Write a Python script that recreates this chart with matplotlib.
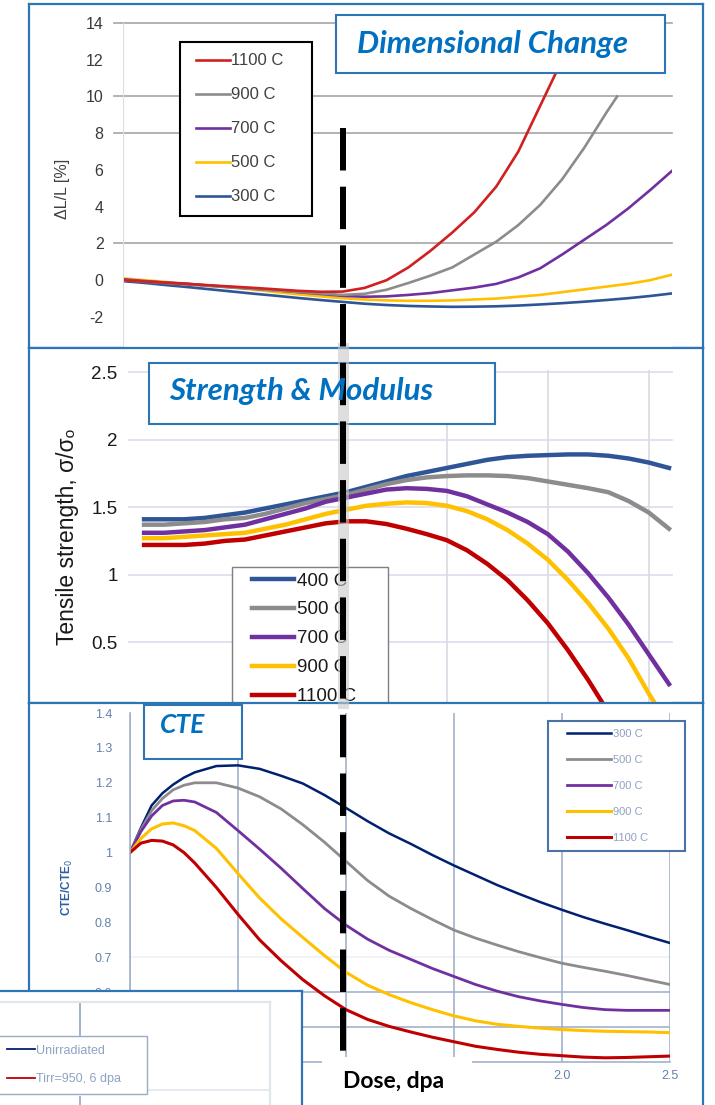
import matplotlib.pyplot as plt
from matplotlib.lines import Line2D
from matplotlib.patches import Rectangle
from matplotlib.legend_handler import HandlerLine2D

plt.rcParams['font.family'] = ['Liberation Sans', 'DejaVu Sans']
plt.rcParams['axes.unicode_minus'] = False

W, H = 715, 1105

# ---- Colores ----
FRAME = '#2e75b6'
TITLE = '#0070c0'
RED = '#c00000'
GRAY = '#8c8c8c'
PURPLE = '#7030a0'
YELLOW = '#ffc000'
BLUE = '#2f5597'
NAVY = '#002070'

# ---- Panel 1: Dimensional change, dL/L [%] vs dosis ----
dc_dose = [0.0, 0.1, 0.2, 0.3, 0.4, 0.5, 0.6, 0.7, 0.8, 0.9, 1.0, 1.1, 1.2,
           1.3, 1.4, 1.5, 1.6, 1.7, 1.8, 1.9, 2.0, 2.1, 2.2, 2.3, 2.4, 2.5]
dc_300 = [-0.05, -0.15, -0.27, -0.38, -0.5, -0.62, -0.74, -0.85, -0.97, -1.08,
          -1.18, -1.28, -1.35, -1.4, -1.43, -1.45, -1.44, -1.42, -1.38, -1.32,
          -1.25, -1.17, -1.08, -0.98, -0.86, -0.72]
dc_500 = [0.1, 0.0, -0.1, -0.2, -0.3, -0.4, -0.52, -0.65, -0.77, -0.88, -0.98,
          -1.05, -1.1, -1.12, -1.12, -1.1, -1.05, -1.0, -0.9, -0.8, -0.65, -0.5,
          -0.35, -0.2, 0.0, 0.3]
dc_700 = [0.05, -0.05, -0.13, -0.2, -0.3, -0.38, -0.47, -0.55, -0.65, -0.75,
          -0.85, -0.9, -0.88, -0.8, -0.7, -0.55, -0.4, -0.2, 0.15, 0.65, 1.4,
          2.2, 3.0, 3.9, 4.9, 5.95]
dc_900_dose = [0.0, 0.1, 0.2, 0.3, 0.4, 0.5, 0.6, 0.7, 0.8, 0.9, 1.0, 1.1, 1.2,
               1.3, 1.4, 1.5, 1.6, 1.7, 1.8, 1.9, 2.0, 2.1, 2.2, 2.25]
dc_900 = [0.0, -0.08, -0.16, -0.24, -0.32, -0.4, -0.48, -0.56, -0.64, -0.72,
          -0.8, -0.74, -0.52, -0.15, 0.25, 0.7, 1.4, 2.1, 3.0, 4.1, 5.5, 7.2,
          9.1, 10.0]
dc_1100_dose = [0.0, 0.1, 0.2, 0.3, 0.4, 0.5, 0.6, 0.7, 0.8, 0.9, 1.0, 1.1,
                1.2, 1.3, 1.4, 1.5, 1.6, 1.7, 1.8, 1.9, 2.0, 2.1]
dc_1100 = [0.0, -0.07, -0.14, -0.21, -0.28, -0.35, -0.42, -0.5, -0.58, -0.63,
           -0.62, -0.42, 0.0, 0.7, 1.6, 2.6, 3.7, 5.1, 7.0, 9.5, 12.0, 15.0]
dc_ticks = [14, 12, 10, 8, 6, 4, 2, 0, -2]
dc_grid = [14, 10, 8, 2]

# ---- Panel 2: Tensile strength sigma/sigma0 vs dosis ----
ts_dose = [0.0, 0.1, 0.2, 0.3, 0.4, 0.5, 0.6, 0.7, 0.8, 0.9, 1.0, 1.1, 1.2,
           1.3, 1.4, 1.5, 1.6, 1.7, 1.8, 1.9, 2.0, 2.1, 2.2, 2.3, 2.4, 2.5, 2.6]
ts_400 = [1.41, 1.41, 1.41, 1.42, 1.44, 1.46, 1.49, 1.52, 1.55, 1.58, 1.61,
          1.65, 1.69, 1.73, 1.76, 1.79, 1.82, 1.85, 1.87, 1.88, 1.885, 1.89,
          1.89, 1.88, 1.86, 1.83, 1.79]
ts_500 = [1.37, 1.37, 1.38, 1.39, 1.41, 1.42, 1.45, 1.49, 1.53, 1.56, 1.59,
          1.63, 1.67, 1.70, 1.72, 1.73, 1.735, 1.735, 1.73, 1.715, 1.69, 1.665,
          1.64, 1.61, 1.545, 1.46, 1.34]
ts_700 = [1.31, 1.31, 1.32, 1.33, 1.35, 1.37, 1.41, 1.45, 1.49, 1.54, 1.57,
          1.60, 1.63, 1.64, 1.635, 1.62, 1.58, 1.52, 1.46, 1.39, 1.30, 1.17,
          1.01, 0.83, 0.63, 0.41, 0.19]
ts_900_dose = [0.0, 0.1, 0.2, 0.3, 0.4, 0.5, 0.6, 0.7, 0.8, 0.9, 1.0, 1.1,
               1.2, 1.3, 1.4, 1.5, 1.6, 1.7, 1.8, 1.9, 2.0, 2.1, 2.2, 2.3, 2.4,
               2.5, 2.55]
ts_900 = [1.27, 1.27, 1.28, 1.29, 1.30, 1.31, 1.34, 1.37, 1.41, 1.45, 1.48,
          1.51, 1.525, 1.535, 1.53, 1.51, 1.47, 1.41, 1.33, 1.23, 1.11, 0.96,
          0.79, 0.60, 0.38, 0.12, 0.0]
ts_1100_dose = [0.0, 0.1, 0.2, 0.3, 0.4, 0.5, 0.6, 0.7, 0.8, 0.9, 1.0, 1.1,
                1.2, 1.3, 1.4, 1.5, 1.6, 1.7, 1.8, 1.9, 2.0, 2.1, 2.2, 2.3]
ts_1100 = [1.22, 1.22, 1.22, 1.23, 1.25, 1.26, 1.29, 1.32, 1.35, 1.38, 1.395,
           1.395, 1.375, 1.34, 1.30, 1.255, 1.18, 1.08, 0.96, 0.81, 0.64, 0.44,
           0.22, -0.02]
ts_ticks = [0.5, 1.0, 1.5, 2.0, 2.5]
ts_ticklabels = ['0.5', '1', '1.5', '2', '2.5']
ts_grid_x = [1.5, 2.0, 2.5]

# ---- Panel 3: CTE/CTE0 vs dosis ----
cte_dose = [0.0, 0.05, 0.1, 0.15, 0.2, 0.25, 0.3, 0.4, 0.5, 0.6, 0.7, 0.8,
            0.9, 1.0, 1.1, 1.2, 1.3, 1.4, 1.5, 1.6, 1.7, 1.8, 1.9, 2.0, 2.1,
            2.2, 2.3, 2.4, 2.5]
cte_300 = [1.0, 1.07, 1.135, 1.17, 1.195, 1.215, 1.23, 1.248, 1.25, 1.24, 1.22,
           1.198, 1.165, 1.128, 1.09, 1.055, 1.025, 0.993, 0.963, 0.935, 0.907,
           0.882, 0.858, 0.836, 0.815, 0.796, 0.778, 0.759, 0.741]
cte_500 = [1.0, 1.065, 1.12, 1.155, 1.18, 1.193, 1.2, 1.2, 1.185, 1.16, 1.125,
           1.08, 1.03, 0.975, 0.92, 0.875, 0.84, 0.808, 0.778, 0.755, 0.735,
           0.716, 0.699, 0.683, 0.671, 0.66, 0.648, 0.635, 0.622]
cte_700 = [1.0, 1.06, 1.105, 1.135, 1.148, 1.15, 1.145, 1.115, 1.063, 1.01,
           0.955, 0.897, 0.84, 0.792, 0.752, 0.72, 0.694, 0.668, 0.645, 0.622,
           0.603, 0.587, 0.575, 0.565, 0.556, 0.55, 0.548, 0.548, 0.548]
cte_900 = [1.0, 1.04, 1.068, 1.082, 1.085, 1.077, 1.063, 1.012, 0.94, 0.87,
           0.81, 0.757, 0.705, 0.657, 0.62, 0.593, 0.57, 0.55, 0.532, 0.518,
           0.508, 0.502, 0.497, 0.493, 0.49, 0.488, 0.487, 0.486, 0.484]
cte_1100 = [1.0, 1.027, 1.035, 1.033, 1.022, 1.0, 0.97, 0.9, 0.823, 0.75, 0.69,
            0.636, 0.59, 0.55, 0.522, 0.502, 0.486, 0.471, 0.458, 0.445, 0.436,
            0.428, 0.422, 0.418, 0.414, 0.412, 0.413, 0.415, 0.417]
cte_yticks = [0.4, 0.5, 0.6, 0.7, 0.8, 0.9, 1.0, 1.1, 1.2, 1.3, 1.4]
# 0.4 y 0.5 quedan tapados por el recorte de abajo
cte_yticklabels = ['', '', '0.6', '0.7', '0.8', '0.9', '1', '1.1', '1.2',
                   '1.3', '1.4']
cte_xticks = [0.0, 0.5, 1.0, 1.5, 2.0, 2.5]
cte_xticklabels = ['', '', '', '', '2.0', '2.5']

temps_dc = ['1100 C', '900 C', '700 C', '500 C', '300 C']
temps_ts = ['400 C', '500 C', '700 C', '900 C', '1100 C']
temps_cte = ['300 C', '500 C', '700 C', '900 C', '1100 C']
legend_old = ['Unirradiated', 'Tirr=950, 6 dpa']

fig = plt.figure(figsize=(W / 100, H / 100), dpi=100)


def px_box(x0, y0, x1, y1):
    # caja en pixeles (origen arriba-izquierda) -> fraccion de figura
    return [x0 / W, 1 - y1 / H, (x1 - x0) / W, (y1 - y0) / H]


def panel_frame(y0, y1, bottom=True):
    bg = fig.add_axes(px_box(29, y0, 703, y1))
    bg.set_xticks([])
    bg.set_yticks([])
    for s in bg.spines.values():
        s.set_color(FRAME)
        s.set_linewidth(1.6)
    bg.spines['bottom'].set_visible(bottom)
    return bg


# =========================== PANEL 1 ===========================
panel_frame(4, 348)
a1 = fig.add_axes(px_box(123, 23, 672, 348))
a1.set_xlim(0, 2.5)
a1.set_ylim(-3.69, 14)
for v in dc_grid:
    a1.axhline(v, xmin=-0.017, color='#a6a6a6', lw=1.2, clip_on=False, zorder=0)
l1 = {}
l1['300 C'], = a1.plot(dc_dose, dc_300, color=BLUE, lw=1.9)
l1['500 C'], = a1.plot(dc_dose, dc_500, color=YELLOW, lw=1.9)
l1['700 C'], = a1.plot(dc_dose, dc_700, color=PURPLE, lw=1.9)
l1['900 C'], = a1.plot(dc_900_dose, dc_900, color=GRAY, lw=1.9)
l1['1100 C'], = a1.plot(dc_1100_dose, dc_1100, color='#d02020', lw=1.9)
for side in ['top', 'right', 'bottom']:
    a1.spines[side].set_visible(False)
a1.spines['left'].set_color('#dedede')
a1.set_xticks([])
a1.set_yticks(dc_ticks)
a1.tick_params(axis='y', length=0, pad=14, labelsize=11.5, labelcolor='#3a3a3a')
a1.set_ylabel('ΔL/L [%]', fontsize=11.5, color='#404040')
a1.yaxis.set_label_coords(-0.096, 0.49)
leg1 = a1.legend([l1[k] for k in temps_dc], temps_dc, loc='upper left',
                 bbox_to_anchor=px_box(180, 42, 312, 210),
                 bbox_transform=fig.transFigure, mode='expand', borderaxespad=0,
                 fontsize=12, handlelength=2.3, handletextpad=0.05,
                 labelspacing=1.14, borderpad=0.68, fancybox=False,
                 edgecolor='black', framealpha=1, labelcolor='#404040',
                 handler_map={Line2D: HandlerLine2D(xpad=0.28)})
leg1.get_frame().set_linewidth(1.5)

# =========================== PANEL 2 ===========================
panel_frame(348, 703)
a2 = fig.add_axes(px_box(137, 370, 672, 703))
a2.set_xlim(-0.035, 2.615)
a2.set_ylim(0.05, 2.515)
for v in ts_ticks:
    a2.axhline(v, xmin=-0.015, color='#dcdcef', lw=1.2, clip_on=False, zorder=0)
for v in ts_grid_x:
    a2.axvline(v, color='#dcdce6', lw=1.3, zorder=0)
l2 = {}
l2['400 C'], = a2.plot(ts_dose, ts_400, color=BLUE, lw=3.2)
l2['500 C'], = a2.plot(ts_dose, ts_500, color=GRAY, lw=3.2)
l2['700 C'], = a2.plot(ts_dose, ts_700, color=PURPLE, lw=3.2)
l2['900 C'], = a2.plot(ts_900_dose, ts_900, color=YELLOW, lw=3.2)
l2['1100 C'], = a2.plot(ts_1100_dose, ts_1100, color=RED, lw=3.2)
for s in a2.spines.values():
    s.set_visible(False)
a2.set_xticks([])
a2.set_yticks(ts_ticks, ts_ticklabels)
a2.tick_params(axis='y', length=0, pad=14, labelsize=13.5, labelcolor='#1a1a1a')
a2.set_ylabel('Tensile strength, σ/σₒ', fontsize=16.5, color='#1a1a1a')
a2.yaxis.set_label_coords(-0.108, 0.5)
leg2 = a2.legend([l2[k] for k in temps_ts], temps_ts, loc='upper left',
                 bbox_to_anchor=px_box(232, 567, 388, 720),
                 bbox_transform=fig.transFigure, mode='expand', borderaxespad=0,
                 fontsize=13.5, handlelength=3.0, handletextpad=0.16,
                 labelspacing=0.63, borderpad=0.29, fancybox=False,
                 edgecolor='#7f7f7f', framealpha=1, labelcolor='#1a1a1a',
                 handler_map={Line2D: HandlerLine2D(xpad=0.78)})
leg2.get_frame().set_linewidth(1.0)

# =========================== PANEL 3 ===========================
panel_frame(703, 1110, bottom=False)
a3 = fig.add_axes(px_box(130, 713, 670, 1062))
a3.set_xlim(0, 2.5)
a3.set_ylim(0.4, 1.4)
a3.axhline(0.7, color='#eef0f5', lw=1.2, zorder=0)
a3.axhline(0.6, color='#a3b1c8', lw=1.2, zorder=0)
a3.axhline(0.5, color='#a3b1c8', lw=1.2, zorder=0)
a3.set_xticks(cte_xticks, cte_xticklabels)
a3.grid(axis='x', color='#a3b1c8', lw=1.2)
a3.set_axisbelow(True)
l3 = {}
l3['300 C'], = a3.plot(cte_dose, cte_300, color=NAVY, lw=1.8)
l3['500 C'], = a3.plot(cte_dose, cte_500, color=GRAY, lw=2.0)
l3['700 C'], = a3.plot(cte_dose, cte_700, color=PURPLE, lw=2.0)
l3['900 C'], = a3.plot(cte_dose, cte_900, color=YELLOW, lw=2.2)
l3['1100 C'], = a3.plot(cte_dose, cte_1100, color=RED, lw=2.2)
a3.spines['top'].set_visible(False)
a3.spines['right'].set_visible(False)
a3.spines['left'].set_color('#a3b1c8')
a3.spines['bottom'].set_color('#a3b1c8')
a3.spines['left'].set_linewidth(1.2)
a3.spines['bottom'].set_linewidth(1.2)
a3.set_yticks(cte_yticks, cte_yticklabels)
a3.tick_params(axis='y', length=0, pad=13, labelsize=9, labelcolor='#6580ad')
a3.tick_params(axis='x', length=0, pad=6, labelsize=9, labelcolor='#6580ad')
a3.set_ylabel(r'CTE/CTE$_0$', fontsize=8.5, color='#2f5fa0', fontweight='bold')
a3.yaxis.set_label_coords(-0.102, 0.5)
leg3 = a3.legend([l3[k] for k in temps_cte], temps_cte, loc='upper left',
                 bbox_to_anchor=px_box(548, 721, 685, 850),
                 bbox_transform=fig.transFigure, mode='expand', borderaxespad=0,
                 fontsize=8, handlelength=5.0, handletextpad=0.15,
                 labelspacing=1.45, borderpad=0.7, fancybox=False,
                 edgecolor='#4a72a6', framealpha=1, labelcolor='#8fa0c2',
                 handler_map={Line2D: HandlerLine2D(xpad=1.0)})
leg3.get_frame().set_linewidth(1.5)

# ---- recorte de otra figura (abajo a la izquierda) ----
ins = fig.add_axes(px_box(-2, 991, 302, 1107), zorder=5)
ins.set_xlim(0, 1)
ins.set_ylim(0, 1)
ins.set_xticks([])
ins.set_yticks([])
ins.spines['left'].set_visible(False)
ins.spines['bottom'].set_visible(False)
ins.spines['top'].set_color(FRAME)
ins.spines['right'].set_color(FRAME)
ins.spines['top'].set_linewidth(1.6)
ins.spines['right'].set_linewidth(1.6)
ins.plot([0, 0.895], [0.905, 0.905], color='#e1e5ec', lw=1.6)
ins.plot([0.895, 0.895], [0, 0.905], color='#e1e5ec', lw=1.6)
ins.plot([0.49, 0.895], [0.147, 0.147], color='#e1e5ec', lw=1.2)
ins.plot([0.27, 0.27], [0.62, 0.885], color='#9aabc5', lw=1.3)
ins.plot([0.27, 0.27], [0, 0.086], color='#9aabc5', lw=1.3)
leg_in = ins.legend([Line2D([], [], color=NAVY, lw=1.3),
                     Line2D([], [], color=RED, lw=1.3)],
                    legend_old, loc='upper left',
                    bbox_to_anchor=(0, 0.1, 0.49, 0.512), mode='expand',
                    borderaxespad=0, fontsize=9, handlelength=2.24,
                    handletextpad=0.1, labelspacing=1.32, borderpad=0.7,
                    fancybox=False, edgecolor='#9aabc5', framealpha=1,
                    labelcolor='#8fa2c4')

# ---- capa superior: titulos, linea de referencia, etiqueta de dosis ----
ov = fig.add_axes([0, 0, 1, 1], zorder=10)
ov.set_xlim(0, W)
ov.set_ylim(H, 0)
ov.axis('off')

title_font = dict(family=['Lato', 'DejaVu Sans'], weight='bold', style='italic',
                  color=TITLE)
ov.add_patch(Rectangle((336, 15), 329, 58, fc='white', ec=FRAME, lw=1.5))
ov.text(357, 53, 'Dimensional Change', fontsize=22.5, **title_font)
ov.add_patch(Rectangle((149, 363), 346, 61, fc='white', ec=FRAME, lw=1.5))
ov.text(169, 400, 'Strength & Modulus', fontsize=22.5, **title_font)
ov.add_patch(Rectangle((144, 705), 98, 54, fc='white', ec=FRAME, lw=1.5))
ov.text(160, 733, 'CTE', fontsize=19, **title_font)

ov.add_patch(Rectangle((322, 1057), 150, 50, fc='white', ec='none'))
ov.text(343, 1088, 'Dose, dpa', fontsize=16.5, family=['Lato', 'DejaVu Sans'],
        weight='bold', color='black')

# linea vertical discontinua (dosis de referencia)
ov.plot([343, 343], [348, 703], color='#c8c8c8', lw=8, alpha=0.6)
ov.plot([343, 343], [128, 1052], color='black', lw=4.32,
        ls=(0, (7.08, 2.7)), dash_capstyle='butt')

fig.savefig('out.png', dpi=100)
